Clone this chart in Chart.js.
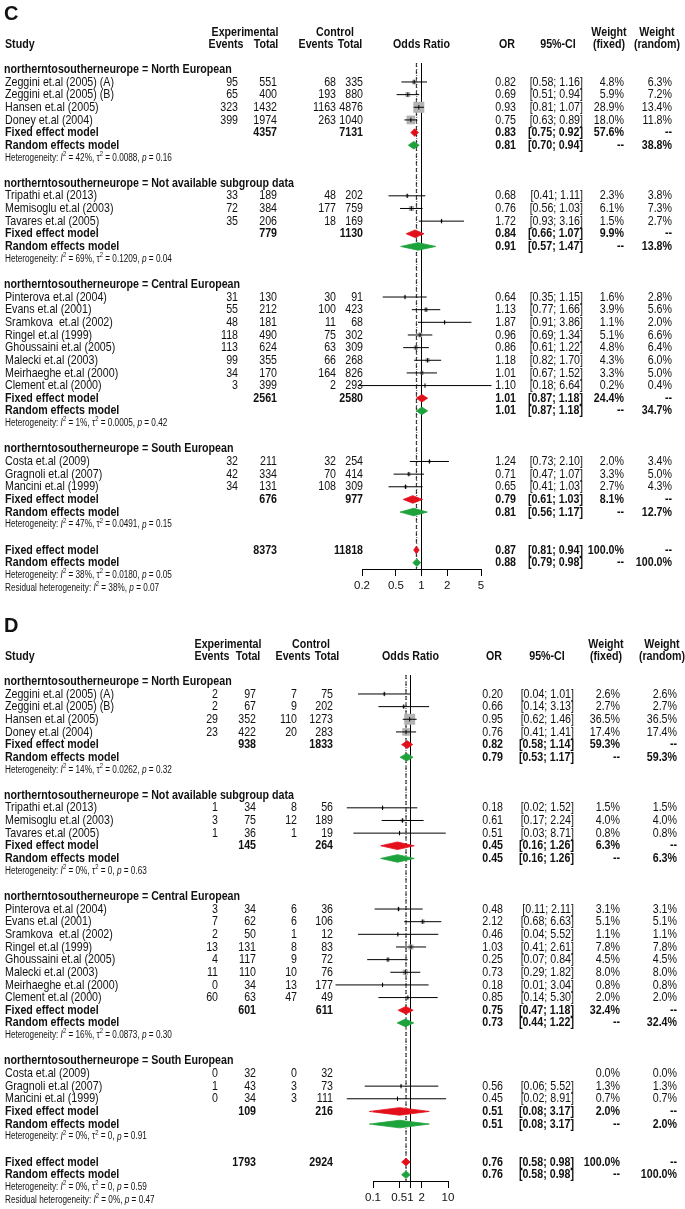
<!DOCTYPE html>
<html>
<head>
<meta charset="utf-8">
<script src="https://cdn.jsdelivr.net/npm/chart.js@4.4.1/dist/chart.umd.min.js"></script>
<style>
html,body{margin:0;padding:0;background:#fff;}
#wrap{position:relative;width:685px;height:1209px;overflow:hidden;background:#fff;}
canvas{position:absolute;left:0;}
</style>
</head>
<body>
<div id="wrap">
<canvas id="panelC" width="685" height="612" style="top:0;width:685px;height:612px"></canvas>
<canvas id="panelD" width="685" height="597" style="top:612px;width:685px;height:597px"></canvas>
</div>
<script>
// ===================== DATA =====================
const groupNames = ['North European', 'Not available subgroup data', 'Central European', 'South European'];
const studyNames = ['Zeggini et.al (2005) (A)', 'Zeggini et.al (2005) (B)', 'Hansen et.al (2005)', 'Doney et.al (2004)',
  'Tripathi et.al (2013)', 'Memisoglu et.al (2003)', 'Tavares et.al (2005)',
  'Pinterova et.al (2004)', 'Evans et.al (2001)', 'Sramkova  et.al (2002)', 'Ringel et.al (1999)',
  'Ghoussaini et.al (2005)', 'Malecki et.al (2003)', 'Meirhaeghe et.al (2000)', 'Clement et.al (2000)',
  'Costa et.al (2009)', 'Gragnoli et.al (2007)', 'Mancini et.al (1999)'];
const studyGroup = [0,0,0,0, 1,1,1, 2,2,2,2,2,2,2,2, 3,3,3];

// ---- Panel C ----
const cExpEvents = [95,65,323,399, 33,72,35, 31,55,48,118,113,99,34,3, 32,42,34];
const cExpTotal  = [551,400,1432,1974, 189,384,206, 130,212,181,490,624,355,170,399, 211,334,131];
const cCtlEvents = [68,193,1163,263, 48,177,18, 30,100,11,75,63,66,164,2, 32,70,108];
const cCtlTotal  = [335,880,4876,1040, 202,759,169, 91,423,68,302,309,268,826,293, 254,414,309];
const cOR        = [0.82,0.69,0.93,0.75, 0.68,0.76,1.72, 0.64,1.13,1.87,0.96,0.86,1.18,1.01,1.10, 1.24,0.71,0.65];
const cLower     = [0.58,0.51,0.81,0.63, 0.41,0.56,0.93, 0.35,0.77,0.91,0.69,0.61,0.82,0.67,0.18, 0.73,0.47,0.41];
const cUpper     = [1.16,0.94,1.07,0.89, 1.11,1.03,3.16, 1.15,1.66,3.86,1.34,1.22,1.70,1.52,6.64, 2.10,1.07,1.03];
const cWFixed    = [4.8,5.9,28.9,18.0, 2.3,6.1,1.5, 1.6,3.9,1.1,5.1,4.8,4.3,3.3,0.2, 2.0,3.3,2.7];
const cWRandom   = [6.3,7.2,13.4,11.8, 3.8,7.3,2.7, 2.8,5.6,2.0,6.6,6.4,6.0,5.0,0.4, 3.4,5.0,4.3];
const cSubExpTotal = [4357, 779, 2561, 676];
const cSubCtlTotal = [7131, 1130, 2580, 977];
const cSubFixOR = [0.83, 0.84, 1.01, 0.79];
const cSubFixLo = [0.75, 0.66, 0.87, 0.61];
const cSubFixHi = [0.92, 1.07, 1.18, 1.03];
const cSubFixW  = [57.6, 9.9, 24.4, 8.1];
const cSubRanOR = [0.81, 0.91, 1.01, 0.81];
const cSubRanLo = [0.70, 0.57, 0.87, 0.56];
const cSubRanHi = [0.94, 1.47, 1.18, 1.17];
const cSubRanW  = [38.8, 13.8, 34.7, 12.7];
const cHetI2   = ['42%', '69%', '1%', '47%'];
const cHetTau2 = ['0.0088', '0.1209', '0.0005', '0.0491'];
const cHetP    = ['0.16', '0.04', '0.42', '0.15'];
const cAllTotals = [8373, 11818];
const cAllFixed  = [0.87, 0.81, 0.94];
const cAllRandom = [0.88, 0.79, 0.98];
const cAllHet    = ['38%', '0.0180', '0.05'];
const cResidHet  = ['38%', '0.07'];
const cTicks = [0.2, 0.5, 1, 2, 5];

// ---- Panel D ----
const dExpEvents = [2,2,29,23, 1,3,1, 3,7,2,13,4,11,0,60, 0,1,0];
const dExpTotal  = [97,67,352,422, 34,75,36, 34,62,50,131,117,110,34,63, 32,43,34];
const dCtlEvents = [7,9,110,20, 8,12,1, 6,6,1,8,9,10,13,47, 0,3,3];
const dCtlTotal  = [75,202,1273,283, 56,189,19, 36,106,12,83,72,76,177,49, 32,73,111];
const dOR        = [0.20,0.66,0.95,0.76, 0.18,0.61,0.51, 0.48,2.12,0.46,1.03,0.25,0.73,0.18,0.85, null,0.56,0.45];
const dLower     = [0.04,0.14,0.62,0.41, 0.02,0.17,0.03, 0.11,0.68,0.04,0.41,0.07,0.29,0.01,0.14, null,0.06,0.02];
const dUpper     = [1.01,3.13,1.46,1.41, 1.52,2.24,8.71, 2.11,6.63,5.52,2.61,0.84,1.82,3.04,5.30, null,5.52,8.91];
const dWFixed    = [2.6,2.7,36.5,17.4, 1.5,4.0,0.8, 3.1,5.1,1.1,7.8,4.5,8.0,0.8,2.0, 0.0,1.3,0.7];
const dWRandom   = [2.6,2.7,36.5,17.4, 1.5,4.0,0.8, 3.1,5.1,1.1,7.8,4.5,8.0,0.8,2.0, 0.0,1.3,0.7];
const dSubExpTotal = [938, 145, 601, 109];
const dSubCtlTotal = [1833, 264, 611, 216];
const dSubFixOR = [0.82, 0.45, 0.75, 0.51];
const dSubFixLo = [0.58, 0.16, 0.47, 0.08];
const dSubFixHi = [1.14, 1.26, 1.18, 3.17];
const dSubFixW  = [59.3, 6.3, 32.4, 2.0];
const dSubRanOR = [0.79, 0.45, 0.73, 0.51];
const dSubRanLo = [0.53, 0.16, 0.44, 0.08];
const dSubRanHi = [1.17, 1.26, 1.22, 3.17];
const dSubRanW  = [59.3, 6.3, 32.4, 2.0];
const dHetI2   = ['14%', '0%', '16%', '0%'];
const dHetTau2 = ['0.0262', '0', '0.0873', '0'];
const dHetP    = ['0.32', '0.63', '0.30', '0.91'];
const dAllTotals = [1793, 2924];
const dAllFixed  = [0.76, 0.58, 0.98];
const dAllRandom = [0.76, 0.58, 0.98];
const dAllHet    = ['0%', '0', '0.59'];
const dResidHet  = ['0%', '0.47'];
const dTicks = [0.1, 0.5, 1, 2, 10];

// ===================== FONTS =====================
function hasFont(name) {
  const c = document.createElement('canvas').getContext('2d');
  const s = 'abcdefghijklmnopqrstuvwxyzABCDEFGH0123456789';
  c.font = '30px monospace'; const w1 = c.measureText(s).width;
  c.font = '30px "' + name + '", monospace'; const w2 = c.measureText(s).width;
  return Math.abs(w1 - w2) > 0.5;
}
const NARROW = hasFont('Liberation Sans Narrow');
const FAM = NARROW ? '"Liberation Sans Narrow"' : '"Liberation Sans"';
const SX = NARROW ? 1 : 0.82;
const TEXT = '#111';

function setFont(ctx, size, bold, italic) {
  ctx.font = (italic ? 'italic ' : '') + (bold ? 'bold ' : '') + size + 'px ' + FAM + ', Arial, sans-serif';
}
function drawTxt(ctx, s, x, y, o) {
  ctx.save();
  if (o.big) {
    ctx.font = 'bold ' + o.size + 'px "Liberation Sans", Arial, sans-serif';
    ctx.textAlign = 'left'; ctx.textBaseline = 'middle';
    ctx.fillText(s, x, y);
  } else {
    setFont(ctx, o.size, o.bold, o.italic);
    ctx.textAlign = o.align || 'left';
    ctx.textBaseline = 'middle';
    ctx.translate(x, y); ctx.scale(SX, 1);
    ctx.fillText(s, 0, 0);
  }
  ctx.restore();
}
function drawRich(ctx, segs, x, y, size) {
  let cx = x;
  for (const sg of segs) {
    const sz = sg.sup ? size * 0.72 : size;
    setFont(ctx, sz, false, !!sg.it);
    const w = ctx.measureText(sg.t).width * SX;
    ctx.save();
    ctx.textAlign = 'left'; ctx.textBaseline = 'middle';
    ctx.translate(cx, y + (sg.sup ? -size * 0.42 : 0)); ctx.scale(SX, 1);
    ctx.fillText(sg.t, 0, 0);
    ctx.restore();
    cx += w;
  }
}
function hetSegs(i2, tau2, p) {
  return [{t: 'Heterogeneity: '}, {t: 'I', it: true}, {t: '2', sup: true}, {t: ' = ' + i2 + ', '},
    {t: '\u03C4'}, {t: '2', sup: true}, {t: ' = ' + tau2 + ', '}, {t: 'p', it: true}, {t: ' = ' + p}];
}
function residSegs(i2, p) {
  return [{t: 'Residual heterogeneity: '}, {t: 'I', it: true}, {t: '2', sup: true}, {t: ' = ' + i2 + ', '},
    {t: 'p', it: true}, {t: ' = ' + p}];
}
const fmtCI = (lo, hi) => '[' + lo.toFixed(2) + '; ' + hi.toFixed(2) + ']';
const fmtW = w => w.toFixed(1) + '%';

// ===================== PANEL BUILDER =====================
function buildPanel(canvasId, P, L) {
  const texts = [];
  const FS = 13;
  const T = (r, x, s, o) => texts.push(Object.assign({r: r, x: x, s: s, size: FS, bold: false, align: 'left'}, o || {}));
  const HR1 = -3.95, HR2 = -2.95;
  T(-5.35, 4, L.label, {big: true, size: 20});
  T(HR1, L.hExp, 'Experimental', {bold: true, align: 'center'});
  T(HR1, L.hCtl, 'Control', {bold: true, align: 'center'});
  T(HR1, L.hWF, 'Weight', {bold: true, align: 'center'});
  T(HR1, L.hWR, 'Weight', {bold: true, align: 'center'});
  T(HR2, 5, 'Study', {bold: true});
  T(HR2, L.hEE, 'Events', {bold: true, align: 'center'});
  T(HR2, L.hET, 'Total', {bold: true, align: 'center'});
  T(HR2, L.hCE, 'Events', {bold: true, align: 'center'});
  T(HR2, L.hCT, 'Total', {bold: true, align: 'center'});
  T(HR2, 'or1', 'Odds Ratio', {bold: true, align: 'center'});
  T(HR2, L.hOR, 'OR', {bold: true, align: 'center'});
  T(HR2, L.hCI, '95%-CI', {bold: true, align: 'center'});
  T(HR2, L.hWF, '(fixed)', {bold: true, align: 'center'});
  T(HR2, L.hWR, '(random)', {bold: true, align: 'center'});

  const ciData = [], sqData = [], sqRad = [], tickData = [], diamonds = [];
  const wmax = Math.max.apply(null, P.wFixed);
  const R = {align: 'right'}, RB = {align: 'right', bold: true};
  let r = -1;
  for (let g = 0; g < groupNames.length; g++) {
    T(r, 4, 'northerntosoutherneurope = ' + groupNames[g], {bold: true, size: 13});
    r++;
    for (let i = 0; i < studyNames.length; i++) {
      if (studyGroup[i] !== g) continue;
      T(r, 5, studyNames[i]);
      T(r, L.cEE, String(P.expEv[i]), R);
      T(r, L.cET, String(P.expTot[i]), R);
      T(r, L.cCE, String(P.ctlEv[i]), R);
      T(r, L.cCT, String(P.ctlTot[i]), R);
      if (P.or[i] != null) {
        T(r, L.cOR, P.or[i].toFixed(2), R);
        T(r, L.cCI, fmtCI(P.lo[i], P.hi[i]), R);
        ciData.push({x: P.lo[i], y: r}, {x: P.hi[i], y: r}, {x: P.hi[i], y: null});
        sqData.push({x: P.or[i], y: r});
        const side = Math.max(1.6, 11 * Math.sqrt(P.wFixed[i] / wmax));
        sqRad.push(side / Math.SQRT2);
        tickData.push({x: P.or[i], y: r});
      }
      T(r, L.cWF, fmtW(P.wFixed[i]), R);
      T(r, L.cWR, fmtW(P.wRandom[i]), R);
      r++;
    }
    T(r, 5, 'Fixed effect model', {bold: true});
    T(r, L.cET, String(P.subExpTot[g]), RB);
    T(r, L.cCT, String(P.subCtlTot[g]), RB);
    T(r, L.cOR, P.subFixOR[g].toFixed(2), RB);
    T(r, L.cCI, fmtCI(P.subFixLo[g], P.subFixHi[g]), RB);
    T(r, L.cWF, fmtW(P.subFixW[g]), RB);
    T(r, L.cWR, '--', RB);
    diamonds.push({or: P.subFixOR[g], lo: P.subFixLo[g], hi: P.subFixHi[g], r: r, c: '#e3101c'});
    r++;
    T(r, 5, 'Random effects model', {bold: true});
    T(r, L.cOR, P.subRanOR[g].toFixed(2), RB);
    T(r, L.cCI, fmtCI(P.subRanLo[g], P.subRanHi[g]), RB);
    T(r, L.cWF, '--', RB);
    T(r, L.cWR, fmtW(P.subRanW[g]), RB);
    diamonds.push({or: P.subRanOR[g], lo: P.subRanLo[g], hi: P.subRanHi[g], r: r, c: '#1ea23c'});
    r++;
    T(r, 5, '', {rich: hetSegs(P.hetI2[g], P.hetTau2[g], P.hetP[g]), size: 10});
    r++;
    r++;
  }
  T(r, 5, 'Fixed effect model', {bold: true});
  T(r, L.cET, String(P.allTotals[0]), RB);
  T(r, L.cCT, String(P.allTotals[1]), RB);
  T(r, L.cOR, P.allFixed[0].toFixed(2), RB);
  T(r, L.cCI, fmtCI(P.allFixed[1], P.allFixed[2]), RB);
  T(r, L.cWF, '100.0%', RB);
  T(r, L.cWR, '--', RB);
  diamonds.push({or: P.allFixed[0], lo: P.allFixed[1], hi: P.allFixed[2], r: r, c: '#e3101c'});
  r++;
  T(r, 5, 'Random effects model', {bold: true});
  T(r, L.cOR, P.allRandom[0].toFixed(2), RB);
  T(r, L.cCI, fmtCI(P.allRandom[1], P.allRandom[2]), RB);
  T(r, L.cWF, '--', RB);
  T(r, L.cWR, '100.0%', RB);
  diamonds.push({or: P.allRandom[0], lo: P.allRandom[1], hi: P.allRandom[2], r: r, c: '#1ea23c'});
  const lastRow = r;
  r++;
  T(r, 5, '', {rich: hetSegs(P.allHet[0], P.allHet[1], P.allHet[2]), size: 10});
  r++;
  T(r, 5, '', {rich: residSegs(P.residHet[0], P.residHet[1]), size: 10});

  const yMin = -1.5, yMax = lastRow + 0.5;
  const DH = 0.3;
  const datasets = [];
  diamonds.forEach(d => datasets.push({
    data: [{x: d.lo, y: d.r}, {x: d.or, y: d.r - DH}, {x: d.hi, y: d.r}, {x: d.or, y: d.r + DH}, {x: d.lo, y: d.r}],
    showLine: true, fill: 'shape', backgroundColor: d.c, borderColor: d.c, borderWidth: 0.8,
    pointRadius: 0, clip: false, order: 1
  }));
  datasets.push({data: tickData, pointStyle: 'line', rotation: 90, pointRadius: 2.2,
    borderColor: '#000', backgroundColor: '#000', pointBorderWidth: 1, clip: false, order: 2});
  datasets.push({data: ciData, showLine: true, spanGaps: false, borderColor: '#000', borderWidth: 1,
    pointRadius: 0, clip: false, order: 3});
  datasets.push({data: sqData, pointStyle: 'rect', pointRadius: ctx => sqRad[ctx.dataIndex],
    backgroundColor: '#b3b3b3', borderColor: '#b3b3b3', pointBorderWidth: 0, clip: false, order: 4});
  datasets.push({data: [{x: 1, y: yMin}, {x: 1, y: yMax}], showLine: true, borderColor: '#000', borderWidth: 1,
    pointRadius: 0, order: 5});
  datasets.push({data: [{x: P.allFixed[0], y: yMin}, {x: P.allFixed[0], y: yMax}], showLine: true,
    borderColor: '#222', borderWidth: 1, borderDash: [4, 3], pointRadius: 0, order: 6});
  datasets.push({data: [{x: P.allRandom[0], y: yMin}, {x: P.allRandom[0], y: yMax}], showLine: true,
    borderColor: '#444', borderWidth: 1, borderDash: [1, 2], pointRadius: 0, order: 7});

  const textPlugin = {
    id: 'forestText',
    afterDraw(chart) {
      const ctx = chart.ctx, ys = chart.scales.y, xs = chart.scales.x;
      ctx.save();
      ctx.fillStyle = TEXT;
      for (const t of texts) {
        const y = ys.getPixelForValue(t.r);
        const x = t.x === 'or1' ? xs.getPixelForValue(1) : t.x;
        if (t.rich) drawRich(ctx, t.rich, x, y, t.size);
        else drawTxt(ctx, t.s, x, y, t);
      }
      ctx.restore();
    }
  };

  const AXH = 26;
  new Chart(document.getElementById(canvasId), {
    type: 'scatter',
    data: {datasets: datasets},
    options: {
      responsive: false, animation: false, devicePixelRatio: 1, events: [],
      layout: {padding: {left: L.left, right: 685 - L.right, top: 63, bottom: L.H - 569 - AXH}},
      plugins: {legend: {display: false}, tooltip: {enabled: false}},
      scales: {
        x: {
          type: 'logarithmic', min: L.xMin, max: L.xMax, position: 'bottom',
          afterBuildTicks: s => { s.ticks = P.ticks.map(v => ({value: v})); },
          afterFit: s => { s.height = AXH; },
          ticks: {autoSkip: false, maxRotation: 0, minRotation: 0, padding: 3, color: TEXT,
            font: {family: NARROW ? 'Liberation Sans Narrow' : 'Liberation Sans', size: NARROW ? 13 : 11.5},
            callback: v => String(v)},
          grid: {display: true, drawOnChartArea: false, drawTicks: true, tickLength: 7, color: '#000', lineWidth: 1},
          border: {display: true, color: '#000', width: 1}
        },
        y: {type: 'linear', reverse: true, min: yMin, max: yMax, display: false}
      }
    },
    plugins: [textPlugin]
  });
}

buildPanel('panelC', {
  expEv: cExpEvents, expTot: cExpTotal, ctlEv: cCtlEvents, ctlTot: cCtlTotal,
  or: cOR, lo: cLower, hi: cUpper, wFixed: cWFixed, wRandom: cWRandom,
  subExpTot: cSubExpTotal, subCtlTot: cSubCtlTotal,
  subFixOR: cSubFixOR, subFixLo: cSubFixLo, subFixHi: cSubFixHi, subFixW: cSubFixW,
  subRanOR: cSubRanOR, subRanLo: cSubRanLo, subRanHi: cSubRanHi, subRanW: cSubRanW,
  hetI2: cHetI2, hetTau2: cHetTau2, hetP: cHetP,
  allTotals: cAllTotals, allFixed: cAllFixed, allRandom: cAllRandom, allHet: cAllHet, residHet: cResidHet,
  ticks: cTicks
}, {
  label: 'C', H: 612, xMin: 0.2, xMax: 5, left: 362, right: 481,
  cEE: 238, cET: 277, cCE: 336, cCT: 363, cOR: 516, cCI: 583, cWF: 624, cWR: 672,
  hExp: 245, hCtl: 335, hEE: 226, hET: 266, hCE: 316, hCT: 350, hOR: 507, hCI: 558, hWF: 609, hWR: 657
});

buildPanel('panelD', {
  expEv: dExpEvents, expTot: dExpTotal, ctlEv: dCtlEvents, ctlTot: dCtlTotal,
  or: dOR, lo: dLower, hi: dUpper, wFixed: dWFixed, wRandom: dWRandom,
  subExpTot: dSubExpTotal, subCtlTot: dSubCtlTotal,
  subFixOR: dSubFixOR, subFixLo: dSubFixLo, subFixHi: dSubFixHi, subFixW: dSubFixW,
  subRanOR: dSubRanOR, subRanLo: dSubRanLo, subRanHi: dSubRanHi, subRanW: dSubRanW,
  hetI2: dHetI2, hetTau2: dHetTau2, hetP: dHetP,
  allTotals: dAllTotals, allFixed: dAllFixed, allRandom: dAllRandom, allHet: dAllHet, residHet: dResidHet,
  ticks: dTicks
}, {
  label: 'D', H: 597, xMin: 0.1, xMax: 10, left: 373, right: 448,
  cEE: 218, cET: 256, cCE: 297, cCT: 333, cOR: 503, cCI: 574, cWF: 620, cWR: 677,
  hExp: 228, hCtl: 311, hEE: 212, hET: 248, hCE: 293, hCT: 327, hOR: 494, hCI: 547, hWF: 606, hWR: 662
});
</script>
</body>
</html>
